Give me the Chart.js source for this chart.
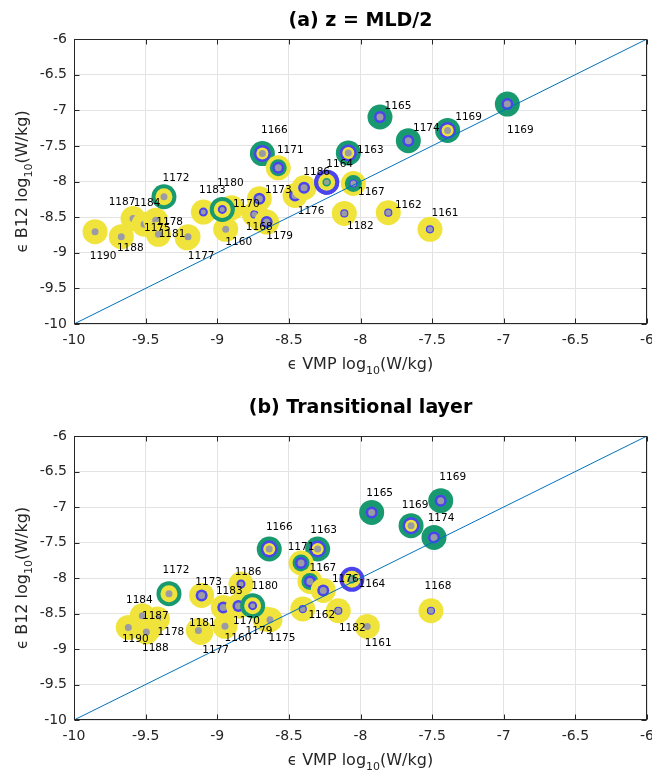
<!DOCTYPE html>
<html>
<head>
<meta charset="utf-8">
<script src="https://cdn.jsdelivr.net/npm/chart.js@4.4.1/dist/chart.umd.min.js"></script>
<style>
  html, body { margin: 0; padding: 0; background: #ffffff; }
  body { width: 652px; height: 774px; position: relative; overflow: hidden; }
  canvas { position: absolute; left: 0; }
</style>
</head>
<body>
<canvas id="chartA" width="652" height="387" style="top:0px"></canvas>
<canvas id="chartB" width="652" height="387" style="top:387px"></canvas>
<script>
// ---------------- DATA ----------------
const tickValues = [-10, -9.5, -9, -8.5, -8, -7.5, -7, -6.5, -6];
const tickLabels = ['-10', '-9.5', '-9', '-8.5', '-8', '-7.5', '-7', '-6.5', '-6'];
const diagonal = [-10, -6];

// Panel (a) z = MLD/2
const stationsA = ['', '', '1190', '1188', '1187', '1184', '1178', '1175', '1177', '1181', '1172', '1183', '1160', '1180', '1168', '1170', '1179', '1173', '1166', '1171', '1176', '1164', '1186', '1163', '1167', '1182', '1162', '1161', '1165', '1174', '1169', '1169'];
const vmpA = [-8.90, -8.457, -9.853, -9.670, -9.588, -9.511, -9.430, -9.411, -9.21, -9.204, -9.372, -9.097, -8.941, -8.965, -8.70, -8.741, -8.655, -8.706, -8.685, -8.574, -8.394, -8.236, -8.236, -8.085, -8.050, -8.113, -7.806, -7.515, -7.864, -7.666, -7.392, -6.975];
const b12A = [-8.37, -8.196, -8.704, -8.774, -8.520, -8.600, -8.545, -8.741, -8.79, -8.774, -8.214, -8.429, -8.671, -8.392, -8.53, -8.462, -8.569, -8.242, -7.608, -7.808, -8.088, -8.010, -8.010, -7.599, -8.028, -8.448, -8.438, -8.671, -7.095, -7.427, -7.283, -6.913];
const ringsA = ['YYYg', 'YYBg', 'YYYg', 'YYYg', 'YYYg', 'YYYg', 'YYYg', 'YYYg', 'YYYg', 'YYYg', 'GYYg', 'YYYH', 'YYYg', 'GYYH', 'YYYg', 'YYYh', 'YYBg', 'YYBg', 'GBYg', 'YGBg', 'YYBg', 'BYYk', 'BYYk', 'GBYg', 'YGGh', 'YYYh', 'YYYh', 'YYYh', 'GGBg', 'GGBg', 'GBYg', 'GGBg'];

// Panel (b) Transitional layer
const stationsB = ['1187', '1178', '1190', '1184', '1188', '1177', '1181', '1172', '1173', '1160', '1183', '1170', '1186', '1179', '1175', '1180', '1166', '1163', '1171', '1167', '1176', '1164', '1162', '1182', '1161', '1168', '1165', '1174', '1169', '1169'];
const vmpB = [-9.418, -9.47, -9.621, -9.523, -9.495, -9.116, -9.132, -9.337, -9.109, -8.946, -8.958, -8.852, -8.834, -8.667, -8.632, -8.753, -8.637, -8.299, -8.415, -8.353, -8.260, -8.060, -8.403, -8.155, -7.953, -7.508, -7.922, -7.487, -7.647, -7.440];
const b12B = [-8.578, -8.70, -8.696, -8.531, -8.761, -8.766, -8.738, -8.221, -8.245, -8.681, -8.414, -8.396, -8.085, -8.577, -8.587, -8.390, -7.592, -7.592, -7.789, -8.048, -8.175, -8.019, -8.437, -8.461, -8.682, -8.461, -7.076, -7.428, -7.263, -6.911];
const ringsB = ['YYYg', 'YYYg', 'YYYg', 'YYYg', 'YYYg', 'YYYg', 'YYYg', 'GYYg', 'YYBg', 'YYYg', 'YYBg', 'YYBg', 'YYYH', 'YYYg', 'YYYg', 'GYYH', 'GBYg', 'GBYg', 'YGBg', 'YGBg', 'YYBg', 'BYYk', 'YYYh', 'YYYh', 'YYYg', 'YYYh', 'GGBg', 'GGBg', 'GBYg', 'GGBg'];

// ---------------- STYLE (label placement offsets in px) ----------------
const labelOffsetsA = [[0,0],[0,0],[8,25],[9,12],[-11,-16],[3,-21],[14,2],[-1,-6],[14,18],[-16,-2],[12,-18],[9,-22],[13,13],[8,-26],[-1,8],[-8,-10],[13,14],[19,-8],[12,-23],[12,-18],[7,23],[13,-18],[-10,-10],[22,-3],[18,9],[16,13],[20,-7],[15,-16],[18,-11],[18,-12],[21,-13],[13,26]];
const labelOffsetsB = [[-2,-3],[21,5],[7,12],[-3,-15],[9,16],[15,18],[4,-7],[7,-23],[7,-13],[13,12],[6,-16],[8,15],[7,-12],[-6,12],[12,19],[12,-19],[10,-22],[6,-19],[0,-16],[13,-13],[22,-11],[20,5],[19,6],[14,18],[11,17],[7,-24],[8,-19],[7,-19],[4,-20],[12,-23]];

const RADII = [12.5, 8.5, 6, 3.5];
const FILL = { Y: '#F0E43C', G: '#18996F', B: '#4B44EE', g: '#9B9BA6', h: '#9B9BA6', H: '#9B9BA6', k: '#93A395' };
const EDGE = { h: ['#4B44EE', 1.2], H: ['#4B44EE', 2], k: ['#18996F', 1.5] };
const AXIS_COLOR = '#262626';
const GRID_COLOR = '#e3e3e3';
const FONT = '"DejaVu Sans", "Liberation Sans", sans-serif';

function stationDatasets(names, xs, ys, rings, offsets) {
  return xs.map((x, i) => {
    const code = rings[i].split('');
    return {
      type: 'scatter',
      order: -i,
      stationLabel: names[i],
      labelOffset: offsets[i],
      data: code.map(() => ({ x: x, y: ys[i] })),
      pointRadius: RADII,
      pointHoverRadius: RADII,
      pointBackgroundColor: code.map(c => FILL[c]),
      pointBorderColor: code.map(c => EDGE[c] ? EDGE[c][0] : 'rgba(0,0,0,0)'),
      pointBorderWidth: code.map(c => EDGE[c] ? EDGE[c][1] : 0),
      pointHoverBorderWidth: code.map(c => EDGE[c] ? EDGE[c][1] : 0)
    };
  });
}

function diagonalDataset() {
  return {
    type: 'line',
    order: -1000,
    data: diagonal.map(v => ({ x: v, y: v })),
    borderColor: '#0072BD',
    borderWidth: 1,
    pointRadius: 0,
    pointHoverRadius: 0,
    fill: false,
    showLine: true
  };
}

function drawParts(ctx, parts, x, y, align) {
  let total = 0;
  parts.forEach(p => { ctx.font = p.size + 'px ' + FONT; p.w = ctx.measureText(p.t).width; total += p.w; });
  let cx = align === 'center' ? x - total / 2 : x;
  ctx.textAlign = 'left';
  ctx.textBaseline = 'alphabetic';
  parts.forEach(p => {
    ctx.font = p.size + 'px ' + FONT;
    ctx.fillText(p.t, cx, y + (p.dy || 0));
    cx += p.w;
  });
}

function decorPlugin(title) {
  return {
    id: 'decor',
    afterDatasetsDraw(chart) {
      const ctx = chart.ctx;
      ctx.save();
      ctx.font = '10.5px ' + FONT;
      ctx.fillStyle = '#000000';
      ctx.textAlign = 'center';
      ctx.textBaseline = 'middle';
      chart.data.datasets.forEach((ds, i) => {
        if (!ds.stationLabel) return;
        const pt = chart.getDatasetMeta(i).data[0];
        ctx.fillText(ds.stationLabel, pt.x + ds.labelOffset[0], pt.y + ds.labelOffset[1]);
      });
      ctx.restore();
    },
    afterDraw(chart) {
      const ctx = chart.ctx;
      const a = chart.chartArea;
      const xs = chart.scales.x, ys = chart.scales.y;
      ctx.save();
      // box
      ctx.strokeStyle = AXIS_COLOR;
      ctx.lineWidth = 1;
      const L = Math.round(a.left) + 0.5, R = Math.round(a.right) - 0.5;
      const T = Math.round(a.top) + 0.5, B = Math.round(a.bottom) - 0.5;
      ctx.strokeRect(L, T, R - L, B - T);
      // inward tick marks
      ctx.beginPath();
      tickValues.forEach(v => {
        const px = Math.round(xs.getPixelForValue(v)) + 0.5;
        ctx.moveTo(px, B); ctx.lineTo(px, B - 5);
        ctx.moveTo(px, T); ctx.lineTo(px, T + 5);
        const py = Math.round(ys.getPixelForValue(v)) + 0.5;
        ctx.moveTo(L, py); ctx.lineTo(L + 5, py);
        ctx.moveTo(R, py); ctx.lineTo(R - 5, py);
      });
      ctx.stroke();
      // title
      ctx.fillStyle = '#000000';
      ctx.font = 'bold 19px ' + FONT;
      ctx.textAlign = 'center';
      ctx.textBaseline = 'middle';
      ctx.fillText(title, (a.left + a.right) / 2, 21);
      // x axis title
      ctx.fillStyle = AXIS_COLOR;
      drawParts(ctx, [
        { t: '\u03F5', size: 15 },
        { t: ' VMP log', size: 16 },
        { t: '10', size: 11, dy: 5 },
        { t: '(W/kg)', size: 16 }
      ], (a.left + a.right) / 2, a.bottom + 45, 'center');
      // y axis title
      ctx.translate(26.5, (a.top + a.bottom) / 2);
      ctx.rotate(-Math.PI / 2);
      drawParts(ctx, [
        { t: '\u03F5', size: 15 },
        { t: ' B12 log', size: 16 },
        { t: '10', size: 11, dy: 5 },
        { t: '(W/kg)', size: 16 }
      ], 0, 0, 'center');
      ctx.restore();
    }
  };
}

function makeChart(id, title, names, xs, ys, rings, offsets, padTop, xAxisHeight) {
  const datasets = [diagonalDataset()].concat(stationDatasets(names, xs, ys, rings, offsets));
  const axis = (isX) => ({
    type: 'linear',
    min: -10,
    max: -6,
    grid: { color: GRID_COLOR, lineWidth: 1, drawTicks: false },
    border: { display: false },
    ticks: {
      stepSize: 0.5,
      color: AXIS_COLOR,
      font: { family: FONT, size: 14 },
      padding: isX ? 8 : 7,
      maxRotation: 0,
      autoSkip: false,
      callback: (v) => { const k = tickValues.indexOf(v); return k >= 0 ? tickLabels[k] : ''; }
    },
    afterFit: (scale) => {
      if (isX) { scale.height = xAxisHeight; } else { scale.width = 74; }
      scale.paddingLeft = 0; scale.paddingRight = 0; scale.paddingTop = 0; scale.paddingBottom = 0;
    }
  });
  return new Chart(document.getElementById(id), {
    type: 'scatter',
    data: { datasets: datasets },
    options: {
      responsive: false,
      animation: false,
      devicePixelRatio: 1,
      events: [],
      layout: { autoPadding: false, padding: { left: 0, right: 5, top: padTop, bottom: 0 } },
      plugins: { legend: { display: false }, tooltip: { enabled: false }, title: { display: false } },
      scales: { x: axis(true), y: axis(false) }
    },
    plugins: [decorPlugin(title)]
  });
}

makeChart('chartA', '(a) z = MLD/2', stationsA, vmpA, b12A, ringsA, labelOffsetsA, 39, 63);
makeChart('chartB', '(b) Transitional layer', stationsB, vmpB, b12B, ringsB, labelOffsetsB, 49, 54);
</script>
</body>
</html>
